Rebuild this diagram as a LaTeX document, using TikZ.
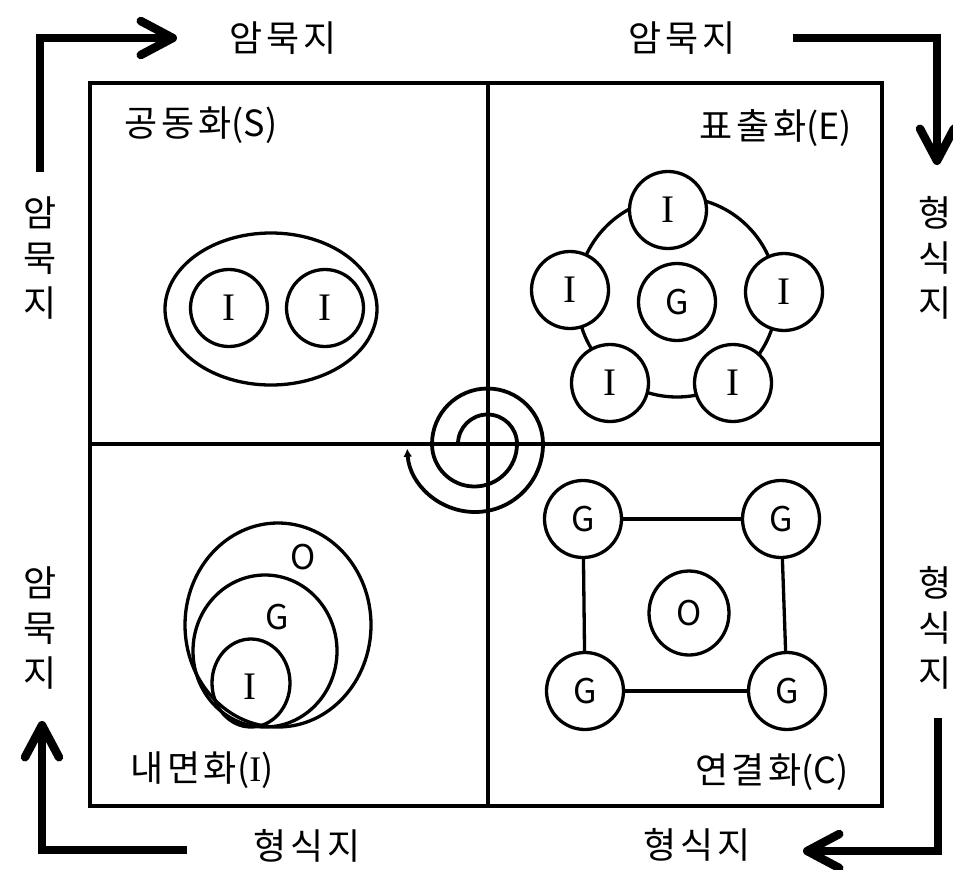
\documentclass[tikz,border=0pt]{standalone}
\usepackage{fontspec}
\newfontfamily\kr[LetterSpace=10]{Noto Sans CJK KR}
\newfontfamily\krl{Noto Sans CJK KR}
\newfontfamily\ser{Liberation Serif}
\usetikzlibrary{arrows.meta}
\begin{document}
\begin{tikzpicture}[x=1pt,y=-1pt,
  lbl/.style={font=\kr\fontsize{36}{36}\selectfont, inner sep=0pt},
  vlbl/.style={font=\krl\fontsize{36}{45}\selectfont, inner sep=0pt, align=center},
  frame/.style={line width=3.8pt},
  circ/.style={draw, line width=3.3pt, fill=white, circle, minimum size=77pt, inner sep=0pt},
  ltrI/.style={font=\ser\fontsize{39}{39}\selectfont},
  ltrG/.style={font=\krl\fontsize{34}{34}\selectfont},
  bigarrow/.style={line width=8.5pt, -{Straight Barb[length=32pt,width=34pt,round]}},
  thin/.style={line width=3.3pt}]
\useasboundingbox (0,0) rectangle (953,870);

% frame
\draw[frame] (90,83) rectangle (882,806);
\coordinate (vt) at (488,83); \coordinate (vb) at (488,806);
\coordinate (hl) at (90,444); \coordinate (hr) at (882,444);
\draw[frame] (vt) -- (vb);
\draw[frame] (hl) -- (hr);

% outer arrows
\draw[bigarrow] (40,172) -- (40,38) -- (177,38);
\draw[bigarrow] (793,38) -- (937,38) -- (937,165);
\draw[bigarrow] (938,718) -- (938,851) -- (803,851);
\draw[bigarrow] (187,850) -- (42,850) -- (42,721);

% outer labels
\node[lbl] (tl) at (283,38) {암묵지};
\node[lbl] (tr) at (682,38) {암묵지};
\node[lbl] (bl) at (307,846) {형식지};
\node[lbl] (br) at (697,845) {형식지};
\node[vlbl] (l1) at (40,258) {암\\묵\\지};
\node[vlbl] (l2) at (40,628) {암\\묵\\지};
\node[vlbl] (r1) at (935,258) {형\\식\\지};
\node[vlbl] (r2) at (935,628) {형\\식\\지};

% quadrant labels
\node[lbl] (qs) at (201,125) {공동화{\krl(S)}};
\node[lbl] (qe) at (776,128) {표출화{\krl(E)}};
\node[lbl] (qi) at (202,770) {내면화{\krl({\ser I})}};
\node[lbl] (qc) at (772,772) {연결화{\krl(C)}};

% spiral
\draw[line width=3.8pt, -{Latex[length=8pt,width=9pt]}]
  (458,444) arc[start angle=180, end angle=0, radius=29.5pt]
  arc[start angle=0, end angle=-180, radius=42.5pt]
  arc[start angle=180, end angle=0, radius=55.5pt]
  arc[start angle=0, end angle=-176, radius=68pt];

% Socialization
\draw[thin] (271,309) ellipse[x radius=106, y radius=76];
\node[circ, ltrI] (s1) at (229,308) {I};
\node[circ, ltrI] (s2) at (325,308) {I};

% Externalization
\draw[thin] (677,297) circle[radius=100pt];
\node[circ, ltrI] (e1) at (668,210) {I};
\node[circ, ltrI] (e2) at (570,290) {I};
\node[circ, ltrI] (e3) at (784,292) {I};
\node[circ, ltrI] (e4) at (610,383) {I};
\node[circ, ltrI] (e5) at (733,383) {I};
\node[circ, ltrG] (eg) at (677,302) {G};

% Combination
\node[circ, ltrG] (c1) at (583,519) {G};
\node[circ, ltrG] (c2) at (781,519) {G};
\node[circ, ltrG] (c3) at (585,691) {G};
\node[circ, ltrG] (c4) at (787,691) {G};
\draw[thin] (c1) -- (c2);
\draw[thin] (c2) -- (c4);
\draw[thin] (c4) -- (c3);
\draw[thin] (c3) -- (c1);
\draw[thin] (689,613) ellipse[x radius=40, y radius=42];
\node[ltrG, inner sep=0pt] (co) at (689,613) {O};

% Internalization
\draw[thin] (278,625) ellipse[x radius=93, y radius=102];
\draw[thin] (265,651) ellipse[x radius=72, y radius=76];
\draw[thin] (251,683) ellipse[x radius=39, y radius=44];
\node[ltrG, inner sep=0pt] (io) at (303,557) {O};
\node[ltrG, inner sep=0pt] (ig) at (277,617) {G};
\node[ltrI, inner sep=0pt] (ii) at (250,687) {I};
\end{tikzpicture}
\end{document}
